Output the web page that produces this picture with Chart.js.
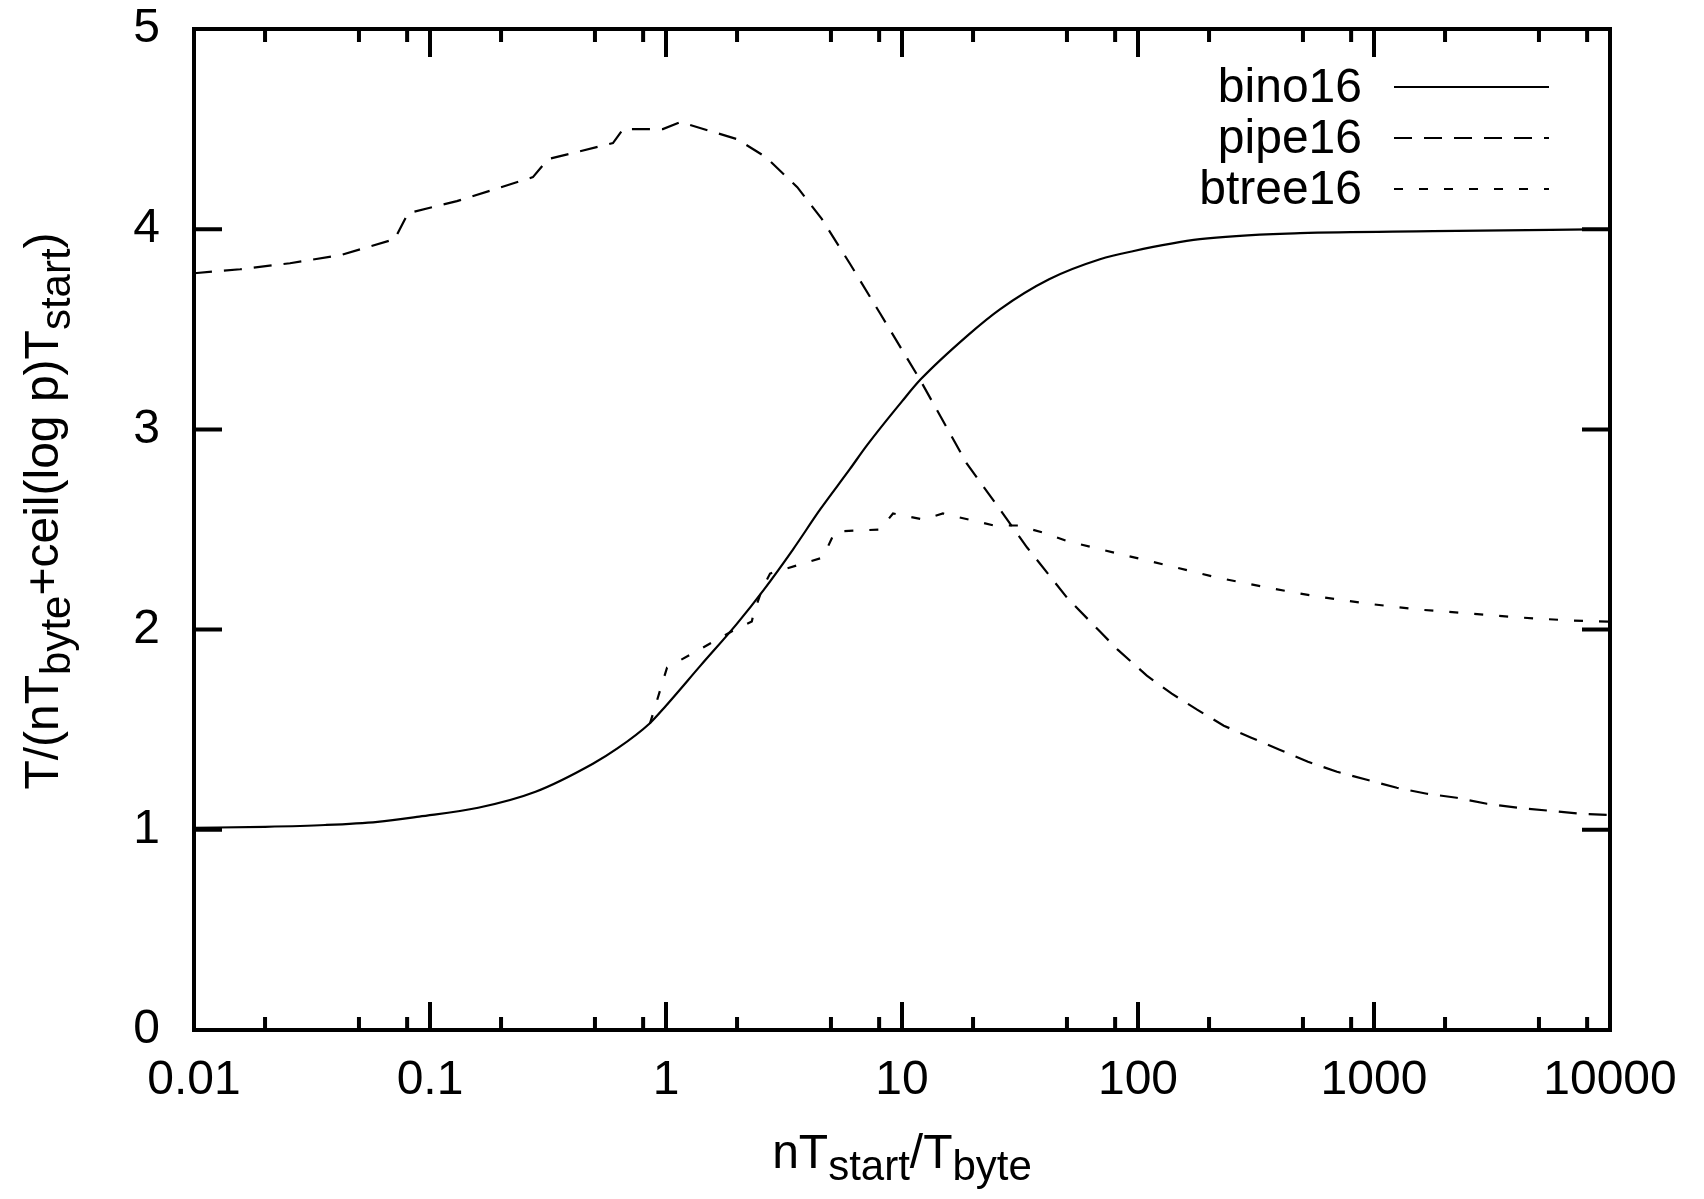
<!DOCTYPE html>
<html>
<head>
<meta charset="utf-8">
<script src="https://cdn.jsdelivr.net/npm/chart.js@4/dist/chart.umd.min.js"></script>
<style>
html,body{margin:0;padding:0;background:#fff;}
#wrap{position:relative;width:1704px;height:1199px;}
</style>
</head>
<body>
<div id="wrap"><canvas id="c" width="1704" height="1199"></canvas></div>
<script>
// ---- data ----
const binoX = [0.01,0.02,0.036,0.06,0.09,0.16,0.28,0.49,0.62,0.85,1.0,1.4,2.0,2.6,3.45,4.5,6.0,7.1,10,12,19,26,42,69,95,183,486,1778,10000];
const binoY = [1.01,1.015,1.024,1.04,1.066,1.11,1.19,1.33,1.405,1.53,1.62,1.82,2.03,2.20,2.40,2.60,2.80,2.92,3.14,3.25,3.47,3.60,3.75,3.85,3.89,3.95,3.98,3.99,4.0];

const pipeX = [0.01,0.0157,0.0255,0.0416,0.0708,0.0807,0.13,0.273,0.316,0.596,0.658,0.97,1.15,2.0,2.65,3.6,4.58,6.0,8.07,11.9,18.8,26,33.9,50,69,82,109,139,178,231,302,398,525,697,933,1250,1675,2240,3010,4070,5460,7310,10000];
const pipeY = [3.78,3.80,3.83,3.87,3.95,4.08,4.14,4.26,4.35,4.43,4.50,4.50,4.535,4.45,4.36,4.21,4.05,3.83,3.58,3.25,2.83,2.60,2.41,2.16,1.99,1.90,1.77,1.68,1.60,1.52,1.46,1.40,1.34,1.29,1.25,1.21,1.18,1.16,1.13,1.11,1.096,1.081,1.074];

const btreeX = [0.855,1.01,1.96,2.31,2.35,2.55,2.76,4.62,5.2,8.07,9.16,12.3,14.9,24.5,30.7,39.6,50.7,64.7,82,105,134,216,352,574,933,1550,2550,4200,6900,10000];
const btreeY = [1.53,1.81,2.00,2.04,2.08,2.20,2.28,2.36,2.49,2.50,2.58,2.55,2.58,2.52,2.52,2.485,2.44,2.41,2.38,2.35,2.32,2.26,2.21,2.165,2.13,2.10,2.08,2.06,2.045,2.04];

const seriesNames = ['bino16','pipe16','btree16'];
const xTickValues = [0.01,0.1,1,10,100,1000,10000];
const xTickLabels = ['0.01','0.1','1','10','100','1000','10000'];
const xMinorFactors = [2,5,8];
const yTickValues = [0,1,2,3,4,5];

// ---- chart ----
const FONT = '"Liberation Sans", Arial, Helvetica, sans-serif';
const pts = (xs, ys) => xs.map((x, i) => ({x: x, y: ys[i]}));

function drawRich(ctx, parts, x, y, align) {
  const mainF = '48px ' + FONT, subF = '42px ' + FONT;
  let w = 0;
  parts.forEach(p => { ctx.font = p.sub ? subF : mainF; w += ctx.measureText(p.t).width; });
  let cx = align === 'center' ? x - w / 2 : x;
  ctx.textAlign = 'left';
  ctx.textBaseline = 'alphabetic';
  parts.forEach(p => {
    ctx.font = p.sub ? subF : mainF;
    ctx.fillText(p.t, cx, y + (p.sub ? 12 : 0));
    cx += ctx.measureText(p.t).width;
  });
}

const framePlugin = {
  id: 'frame',
  afterDraw(chart) {
    const ctx = chart.ctx, a = chart.chartArea;
    const xs = chart.scales.x, ys = chart.scales.y;
    ctx.save();
    ctx.strokeStyle = '#000';
    ctx.lineWidth = 4;
    ctx.lineCap = 'butt';
    ctx.beginPath();
    const major = 28, minor = 13;
    yTickValues.forEach(v => {
      const py = ys.getPixelForValue(v);
      ctx.moveTo(a.left, py); ctx.lineTo(a.left + major, py);
      ctx.moveTo(a.right, py); ctx.lineTo(a.right - major, py);
    });
    xTickValues.forEach((v, i) => {
      const px = xs.getPixelForValue(v);
      ctx.moveTo(px, a.bottom); ctx.lineTo(px, a.bottom - major);
      ctx.moveTo(px, a.top); ctx.lineTo(px, a.top + major);
      if (i < xTickValues.length - 1) {
        xMinorFactors.forEach(f => {
          const mx = xs.getPixelForValue(v * f);
          ctx.moveTo(mx, a.bottom); ctx.lineTo(mx, a.bottom - minor);
          ctx.moveTo(mx, a.top); ctx.lineTo(mx, a.top + minor);
        });
      }
    });
    ctx.stroke();
    ctx.strokeRect(a.left, a.top, a.right - a.left, a.bottom - a.top);

    // legend
    ctx.fillStyle = '#000';
    ctx.font = '48px ' + FONT;
    ctx.textAlign = 'right';
    ctx.textBaseline = 'middle';
    const rows = [87, 138, 189];
    chart.data.datasets.forEach((ds, i) => {
      ctx.fillText(ds.label, 1362, rows[i] + 2);
      ctx.save();
      ctx.lineWidth = ds.borderWidth;
      ctx.setLineDash(ds.borderDash || []);
      ctx.beginPath();
      ctx.moveTo(1394, rows[i]); ctx.lineTo(1549, rows[i]);
      ctx.stroke();
      ctx.restore();
    });

    // axis titles
    drawRich(ctx, [{t:'nT'},{t:'start',sub:true},{t:'/T'},{t:'byte',sub:true}], (a.left + a.right) / 2, 1168, 'center');
    ctx.save();
    ctx.translate(58, 511);
    ctx.rotate(-Math.PI / 2);
    drawRich(ctx, [{t:'T/(nT'},{t:'byte',sub:true},{t:'+ceil(log p)T'},{t:'start',sub:true},{t:')'}], 0, 0, 'center');
    ctx.restore();
    ctx.restore();
  }
};

const zeroPad = s => { s.paddingTop = 0; s.paddingBottom = 0; s.paddingLeft = 0; s.paddingRight = 0; };

new Chart(document.getElementById('c'), {
  type: 'line',
  data: {
    datasets: [
      {label: seriesNames[0], data: pts(binoX, binoY), borderColor: '#000', borderWidth: 2.2, pointRadius: 0, fill: false, cubicInterpolationMode: 'monotone'},
      {label: seriesNames[1], data: pts(pipeX, pipeY), borderColor: '#000', borderWidth: 2.2, pointRadius: 0, fill: false, tension: 0, borderDash: [18, 12]},
      {label: seriesNames[2], data: pts(btreeX, btreeY), borderColor: '#000', borderWidth: 2.2, pointRadius: 0, fill: false, tension: 0, borderDash: [9, 16]}
    ]
  },
  options: {
    responsive: false,
    animation: false,
    devicePixelRatio: 1,
    layout: {padding: {top: 29, right: 94, left: 0, bottom: 0}},
    plugins: {legend: {display: false}, tooltip: {enabled: false}},
    scales: {
      x: {
        type: 'logarithmic',
        min: 0.01, max: 10000,
        grid: {display: false, drawTicks: false},
        border: {display: false},
        afterBuildTicks: s => { s.ticks = xTickValues.map(v => ({value: v})); },
        afterFit: s => { s.height = 169; zeroPad(s); },
        ticks: {
          color: '#000', font: {family: FONT, size: 48}, padding: 22, maxRotation: 0, autoSkip: false,
          callback: (v, i) => xTickLabels[i]
        }
      },
      y: {
        type: 'linear',
        min: 0, max: 5,
        grid: {display: false, drawTicks: false},
        border: {display: false},
        afterBuildTicks: s => { s.ticks = yTickValues.map(v => ({value: v})); },
        afterFit: s => { s.width = 194; zeroPad(s); },
        ticks: {color: '#000', font: {family: FONT, size: 48}, padding: 34}
      }
    }
  },
  plugins: [framePlugin]
});
</script>
</body>
</html>
